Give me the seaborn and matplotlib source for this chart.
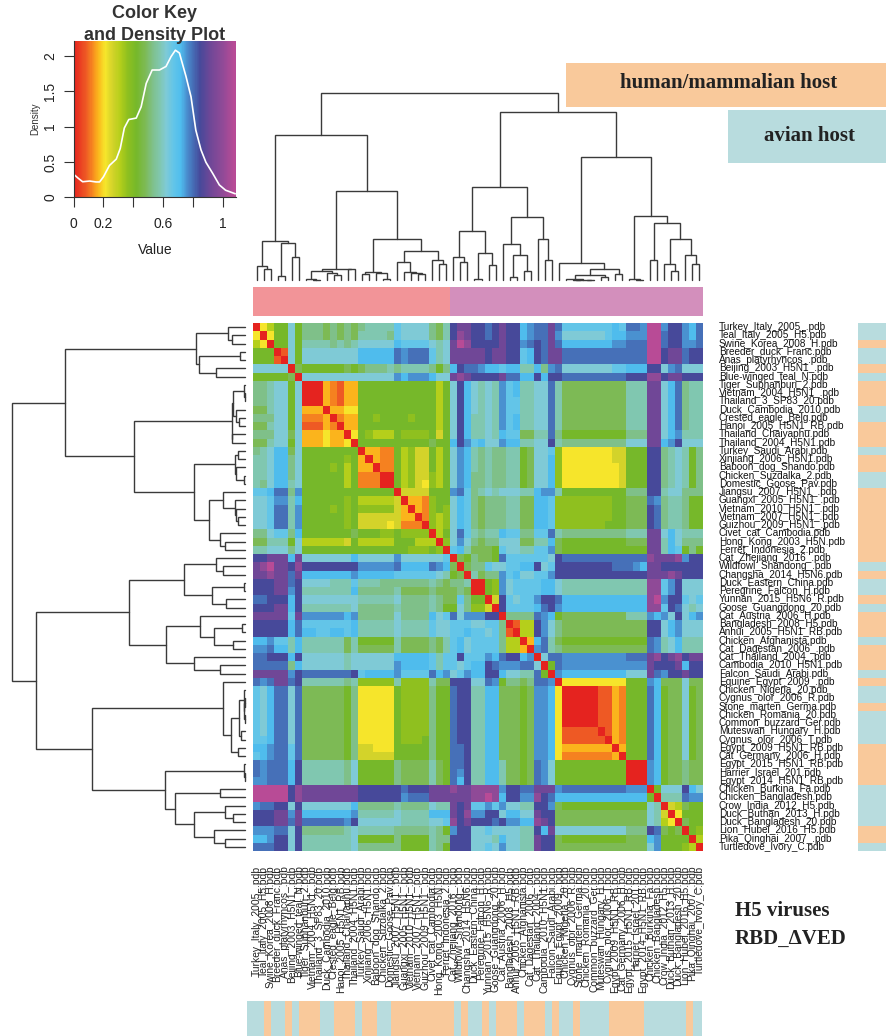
import numpy as np
import pandas as pd
import matplotlib.pyplot as plt
import seaborn as sns
from matplotlib.colors import LinearSegmentedColormap, ListedColormap

sns.set_theme(style="white")
plt.rcParams['font.family'] = ['Liberation Sans', 'DejaVu Sans']

W, H = 887, 1036

# names of the structures, same order for rows and columns
labels = [
    "Turkey_Italy_2005_.pdb", "Teal_Italy_2005_H5.pdb", "Swine_Korea_2008_H.pdb", "Breeder_duck_Franc.pdb",
    "Anas_platyrhyncos_.pdb", "Beijing_2003_H5N1_.pdb", "Blue-winged_teal_N.pdb", "Tiger_Suphanburi_2.pdb",
    "Vietnam_2004_H5N1_.pdb", "Thailand_3_SP83_20.pdb", "Duck_Cambodia_2010.pdb", "Crested_eagle_Belg.pdb",
    "Hanoi_2005_H5N1_RB.pdb", "Thailand_Chaiyaphu.pdb", "Thailand_2004_H5N1.pdb", "Turkey_Saudi_Arabi.pdb",
    "Xinjiang_2006_H5N1.pdb", "Baboon_dog_Shando.pdb", "Chicken_Suzdalka_2.pdb", "Domestic_Goose_Pav.pdb",
    "Jiangsu_2007_H5N1_.pdb", "Guangxi_2005_H5N1_.pdb", "Vietnam_2010_H5N1_.pdb", "Vietnam_2007_H5N1_.pdb",
    "Guizhou_2009_H5N1_.pdb", "Civet_cat_Cambodia.pdb", "Hong_Kong_2003_H5N.pdb", "Ferret_Indonesia_2.pdb",
    "Cat_Zhejiang_2016_.pdb", "Wildfowl_Shandong_.pdb", "Changsha_2014_H5N6.pdb", "Duck_Eastern_China.pdb",
    "Peregrine_Falcon_H.pdb", "Yunnan_2015_H5N6_R.pdb", "Goose_Guangdong_20.pdb", "Cat_Austria_2006_H.pdb",
    "Bangladesh_2008_H5.pdb", "Anhui_2005_H5N1_RB.pdb", "Chicken_Afghanista.pdb", "Cat_Dagestan_2006_.pdb",
    "Cat_Thailand_2004_.pdb", "Cambodia_2010_H5N1.pdb", "Falcon_Saudi_Arabi.pdb", "Equine_Egypt_2009_.pdb",
    "Chicken_Nigeria_20.pdb", "Cygnus_olor_2006_R.pdb", "Stone_marten_Germa.pdb", "Chicken_Romania_20.pdb",
    "Common_buzzard_Ger.pdb", "Muteswan_Hungary_H.pdb", "Cygnus_olor_2006_T.pdb", "Egypt_2009_H5N1_RB.pdb",
    "Cat_Germany_2006_H.pdb", "Egypt_2015_H5N1_RB.pdb", "Harrier_Israel_201.pdb", "Egypt_2014_H5N1_RB.pdb",
    "Chicken_Burkina_Fa.pdb", "Chicken_Bangladesh.pdb", "Crow_India_2012_H5.pdb", "Duck_Buthan_2013_H.pdb",
    "Duck_Bangladesh_20.pdb", "Lion_Hubei_2016_H5.pdb", "Pika_Qinghai_2007_.pdb", "Turtledove_Ivory_C.pdb",
]

# 1 = human/mammalian host, 0 = avian host
host = [0, 0, 1, 0, 0, 1, 0, 1, 1, 1, 0, 0, 1, 1, 1, 0, 1, 1, 0, 0,
        1, 1, 1, 1, 1, 1, 1, 1, 1, 0, 1, 0, 0, 1, 0, 1, 1, 1, 0, 1,
        1, 1, 0, 1, 0, 0, 1, 0, 0, 0, 0, 1, 1, 1, 1, 1, 0, 0, 0, 0,
        0, 1, 1, 0]
# the strip under the heatmap differs at the Lion entry
host_bottom = [0, 0, 1, 0, 0, 1, 0, 1, 1, 1, 0, 0, 1, 1, 1, 0, 1, 1, 0, 0,
               1, 1, 1, 1, 1, 1, 1, 1, 1, 0, 1, 0, 0, 1, 0, 1, 1, 1, 0, 1,
               1, 1, 0, 1, 0, 0, 1, 0, 0, 0, 0, 1, 1, 1, 1, 1, 0, 0, 0, 0,
               0, 0, 1, 0]

# colour levels: one letter per value
level_codes = list("0123456789abcdefghijk")
level_values = [0.00, 0.08, 0.12, 0.16, 0.21, 0.26, 0.31, 0.36, 0.42, 0.48, 0.53,
                0.58, 0.62, 0.67, 0.72, 0.76, 0.80, 0.85, 0.92, 1.00, 1.08]
level_colors = ["#e5231f", "#ee5a24", "#f58220", "#fbb41c", "#f6e62b", "#d3d32a", "#b5cf1b",
                "#8fc01f", "#76b82a", "#7dba55", "#7fc08a", "#80c7b0", "#7fcad6", "#63c5e8",
                "#4fbdee", "#4a90d0", "#4670b8", "#46499a", "#6f4797", "#8f4a97", "#b84b96"]
key_max = 1.09

# upper triangle of the distance matrix, row i holds columns i..63
upper_rows = [
    "04688c8 aaa9a9a9 abbbb dcccca9b hiih hghihhefggig ddddddded ggf kkfhhfeg",
    "0488c8 aaa9a9a9 bbbba dcccca9b hjih hghihhefggif ccccccdee fff kkghhfeg",
    "088c8 bbbbabab ccccc eddddcbc ikjh hhhihhfghgig eeeeeeeff ggg kkghhffg",
    "01c8 cccccccc eeeee gfgggdbc iiii ihiihhdehgii ggggggggg ggg kkhiighh",
    "0c8 cccccccc eeeee gfgggdbc iiii ihiihhdehgii ggggggggg ggg kkhiighh",
    "09 88888898 9aaab abbbba8a ehgg feedeebbeafg cccccccdd eee hhcfgccc",
    "0 cccccccc ccccc fefffecc ijih hhhiggeehehh ggggggggg hhh jjhiihhh",
    "00032133 88888 88888868 chec bcbfdebbccgb 999999999 bbb iicegabb",
    "0032133 88888 88888868 chec bcbfdebbccgb 999999999 bbb iicegabb",
    "032133 88888 88888868 chec bcbfddbbccgb 999999999 bbb iicegabb",
    "03344 88888 88888868 chec bcbfddbbccgb 999999999 bbb iicegabb",
    "0233 88788 88788868 cheb bcbfdebbccgb 999999999 bbb iicegabb",
    "033 88888 88888868 cheb bcbfdebbccgb 999999999 bbb iicegabb",
    "04 87666 87777858 cheb bcbedd99bbga 888888888 aaa iicefbbb",
    "0 88888 88888988 ehfd eccfeebbcchb aaaaaaaaa ccc iiefhccc",
    "03322 86755868 cfeb abaabb89ccd7 444444455 888 hhabcb8a",
    "0322 86755868 cfeb abaabb89cce7 444444455 888 hhabcb8a",
    "022 86755868 cfeb abaabb89cce7 444444445 888 hhabcb8a",
    "00 86755768 cfea abaabb89cce7 444444445 888 hhabcb8a",
    "0 86754768 cfea abaabb89cce7 444444445 888 hhabcb8a",
    "05555888 fgda bcbcccbbeffb 888888888 aaa hhbccaaa",
    "0332788 ceda 9aaabb99eed7 777777788 999 gfabba88",
    "032787 ceda 9aaabb99eed7 777777788 999 hgabba88",
    "02767 ceda 9aaabb99eed7 777777788 999 hgabba88",
    "0767 ceda 9aaabb99eed7 777777888 999 hgabba88",
    "068 cgdb abbeddaaddgb aaaaaaaaa bbb iicecbbb",
    "07 cfca 9aaccc99bbe9 888888888 999 iibecaaa",
    "0 deb9 998dccbbddf9 888888888 888 iibed8a8",
    "098a 998gddddddch ggggggggg ggg jiiijfhh",
    "09a adccddeehcdh hhhhhhhgg gfe iihhhhhh",
    "0b 9aafdeccddfh hhhhhhhhh hhh iiijihhh",
    "0 087fcddddeec bbbbbbbbb bbb jjdfhccc",
    "087fcddddeec bbbbbbbbb bbb jjdfhccc",
    "05hdcddfhhg eeeeeeeee eee jkfhhdcd",
    "0hddddeghf eeeeeeeee eee jjdhgcbc",
    "0aaaagfe8 999999999 bbb fefchcef",
    "0166hfca 999999999 999 hhcefccc",
    "066hfca 999999999 999 hhcefccc",
    "03egb9 888888888 888 gfbcebbb",
    "0fgba 999999999 999 gfbcebbb",
    "0cgg fffffffff ggg ijhijhii",
    "08g fffffffff fff ihhhiehh",
    "0f eeeeeeeee ccc igfhhihh",
    "0 444444444 888 fe999c99",
    "000001132 888 ge899c89",
    "00001132 888 ge899c89",
    "0001132 888 ge899c89",
    "001132 888 ge899c89",
    "01132 888 ge899c89",
    "0132 888 ge899c89",
    "032 888 ge899c89",
    "03 888 ge899c89",
    "0 888 ge899c89",
    "000 fe899a99",
    "00 fe899a99",
    "0 fe899a99",
    "08ccchec",
    "0bbbgff",
    "056988",
    "04888",
    "0988",
    "087",
    "06",
    "0",
]

# density curve of the colour key
density_x = [0.0, 0.03, 0.06, 0.107, 0.15, 0.174, 0.2, 0.24, 0.286, 0.3125, 0.34, 0.37, 0.42, 0.453, 0.487,
             0.527, 0.576, 0.62, 0.654, 0.683, 0.71, 0.754, 0.788, 0.82, 0.855, 0.888, 0.933, 0.978, 1.02, 1.085]
density_y = [0.325, 0.27, 0.22, 0.23, 0.217, 0.217, 0.29, 0.45, 0.54, 0.69, 0.98, 1.10, 1.12, 1.28, 1.61,
             1.80, 1.80, 1.85, 1.99, 2.08, 2.04, 1.71, 1.42, 0.95, 0.67, 0.495, 0.34, 0.175, 0.10, 0.05]

# cluster tree: (height, left, right), plain ints are leaves
tree_a = (118, (42, 0, (32, 1, 2)), (112, (12, 3, 4), (70, 5, 6)))
tree_b1 = (32, (28, (2, 7, (1, 8, 9)), (22, 10, (14, 11, 12))), (32, 13, 14))
tree_b2 = (24, (18, 15, 16), (22, 17, (2, 18, 19)))
tree_b3 = (54, 20, (24, 21, (22, 22, (18, 23, 24))))
tree_b4 = (60, 25, (48, 26, 27))
tree_b = (122, tree_b2, (88, tree_b3, tree_b4))
tree_left = (435, tree_a, (267, tree_b1, tree_b))
tree_c = (148, (70, 28, (54, 29, 30)), (80, (2, 31, 32), (45, 33, 34)))
tree_d = (190, (109, 35, (74, (8, 36, 37), (28, 38, 39))), (122, 40, (60, 41, 42)))
tree_e = (52, 43, (34, (15, (2, 44, (1.5, (1, 45, 46), (1, 47, 48))), (10, 49, 50)), (18, 51, 52)))
tree_f = (193, (2, 53, (1, 54, 55)), (170, (60, 56, 57), (122, (48, 58, (28, 59, 60)), (74, 61, (48, 62, 63)))))
tree_right = (505, (280, tree_c, tree_d), (370, tree_e, tree_f))
tree_root = (562, tree_left, tree_right)

peach = "#f9c99b"
teal = "#b8dcde"
group_colors = ["#f29498", "#d38fbc"]
group_split = 28

# build the symmetric matrix
lookup = dict(zip(level_codes, level_values))
n = len(labels)
matrix = np.zeros((n, n))
for i, row in enumerate(upper_rows):
    row = row.replace(" ", "")
    assert len(row) == n - i, (i, len(row))
    for k, ch in enumerate(row):
        matrix[i, i + k] = matrix[i + k, i] = lookup[ch]
df = pd.DataFrame(matrix, index=labels, columns=labels)

anchors = [(v / key_max, c) for v, c in zip(level_values, level_colors)] + [(1.0, level_colors[-1])]
cmap = LinearSegmentedColormap.from_list("key", anchors, N=512)
host_cmap = ListedColormap([teal, peach])


def place(left, top, right, bottom):
    return fig.add_axes([left / W, 1 - bottom / H, (right - left) / W, (bottom - top) / H])


def tree_segments(node, segs):
    # returns leaf position and height of a node, collects the elbow lines
    if isinstance(node, int):
        return node + 0.5, 0
    h, a, b = node
    pa, ha = tree_segments(a, segs)
    pb, hb = tree_segments(b, segs)
    segs.append(([pa, pa, pb, pb], [ha, h, h, hb]))
    return (pa + pb) / 2, h


fig = plt.figure(figsize=(W / 100, H / 100), dpi=100)

# main heatmap
ax = place(253, 323, 703, 851)
sns.heatmap(df, ax=ax, cmap=cmap, vmin=0, vmax=key_max, cbar=False,
            xticklabels=True, yticklabels=True)
ax.yaxis.tick_right()
ax.tick_params(axis='y', length=0, pad=11.5, labelsize=7.2, labelcolor="#111111", labelrotation=0)
ax.tick_params(axis='x', length=0, pad=10.5, labelsize=7.4, labelcolor="#222222", labelrotation=90)
for t in ax.get_yticklabels():
    t.set_va('center')
ax.set_xlabel("")
ax.set_ylabel("")

# dendrograms, same tree on both sides
segments = []
tree_segments(tree_root, segments)

ax_top = place(253, 92.7, 703, 280)
for xs, ys in segments:
    ax_top.plot(xs, ys, color="#3a3a3a", lw=1.0, solid_joinstyle='miter', clip_on=False)
ax_top.set_xlim(0, n)
ax_top.set_ylim(0, 562)
ax_top.axis('off')

ax_left = place(12.3, 323, 245, 851)
for xs, ys in segments:
    ax_left.plot(ys, xs, color="#3a3a3a", lw=1.0, solid_joinstyle='miter', clip_on=False)
ax_left.set_xlim(562, 0)
ax_left.set_ylim(n, 0)
ax_left.axis('off')

# cluster bar on top
groups = [0 if i < group_split else 1 for i in range(n)]
ax_group = place(253, 287, 703, 316)
sns.heatmap(np.array(groups)[None, :], ax=ax_group, cmap=ListedColormap(group_colors), cbar=False,
            xticklabels=False, yticklabels=False, vmin=0, vmax=1)

# host bars, right and bottom
ax_host = place(858, 323, 887, 851)
sns.heatmap(np.array(host)[:, None], ax=ax_host, cmap=host_cmap, cbar=False,
            xticklabels=False, yticklabels=False, vmin=0, vmax=1)

ax_host2 = place(247, 1001, 702, 1036)
ax_host2.set_facecolor(teal)
sns.heatmap(np.array(host_bottom)[None, :], ax=ax_host2, cmap=host_cmap, cbar=False,
            xticklabels=False, yticklabels=False, vmin=0, vmax=1)
ax_host2.set_xlim(-0.43, 64.3)

# colour key with density line
ax_grad = place(73.7, 41, 236, 197.3)
grad = np.linspace(0, key_max, 300)[None, :]
sns.heatmap(grad, ax=ax_grad, cmap=cmap, vmin=0, vmax=key_max, cbar=False,
            xticklabels=False, yticklabels=False)

ax_key = place(73.7, 41, 236, 197.3)
ax_key.patch.set_alpha(0)
sns.lineplot(x=density_x, y=density_y, ax=ax_key, color="white", lw=1.2, estimator=None, sort=False)
ax_key.set_xlim(0, key_max)
ax_key.set_ylim(0, 2.21)
for s in ['top', 'right']:
    ax_key.spines[s].set_visible(False)
for s in ['left', 'bottom']:
    ax_key.spines[s].set_color("#333333")
    ax_key.spines[s].set_linewidth(0.8)
ax_key.set_xticks([0, 0.2, 0.4, 0.6, 0.8, 1.0])
ax_key.set_xticklabels(["0", "0.2", "", "0.6", "", "1"])
ax_key.set_yticks([0, 0.5, 1, 1.5, 2])
ax_key.set_yticklabels(["0", "0.5", "1", "1.5", "2"], rotation=90, va='center')
ax_key.tick_params(axis='x', bottom=True, length=7, width=0.8, color="#333333",
                   labelsize=10, labelcolor="#222222", pad=7)
ax_key.tick_params(axis='y', left=True, length=7, width=0.8, color="#333333",
                   labelsize=10, labelcolor="#222222", pad=5)
ax_key.set_xlabel("Value", fontsize=10, color="#222222", labelpad=9)
ax_key.set_ylabel("Density", fontsize=7, color="#333333", labelpad=2)
fig.text(155 / W, 1 - 14 / H, "Color Key", ha='center', va='center', fontsize=13, fontweight='bold', color="#333333")
fig.text(155 / W, 1 - 35 / H, "and Density Plot", ha='center', va='center', fontsize=13, fontweight='bold', color="#333333")

# annotation boxes
serif = ['Liberation Serif', 'DejaVu Serif']
ax_box1 = place(566, 63, 887, 107)
ax_box1.set_facecolor(peach)
ax_box1.set_xticks([])
ax_box1.set_yticks([])
sns.despine(ax=ax_box1, left=True, bottom=True)
ax_box2 = place(728, 110, 887, 163)
ax_box2.set_facecolor(teal)
ax_box2.set_xticks([])
ax_box2.set_yticks([])
sns.despine(ax=ax_box2, left=True, bottom=True)
fig.text(729 / W, 1 - 83 / H, "human/mammalian host", ha='center', va='center', fontsize=15,
         fontweight='bold', family=serif, color="#222222")
fig.text(810 / W, 1 - 136 / H, "avian host", ha='center', va='center', fontsize=15,
         fontweight='bold', family=serif, color="#222222")
fig.text(735 / W, 1 - 911 / H, "H5 viruses", ha='left', va='center', fontsize=15,
         fontweight='bold', family=serif, color="#222222")
fig.text(735 / W, 1 - 939 / H, "RBD_\u0394VED", ha='left', va='center', fontsize=15,
         fontweight='bold', family=serif, color="#222222")

fig.savefig("out.png", dpi=100)
